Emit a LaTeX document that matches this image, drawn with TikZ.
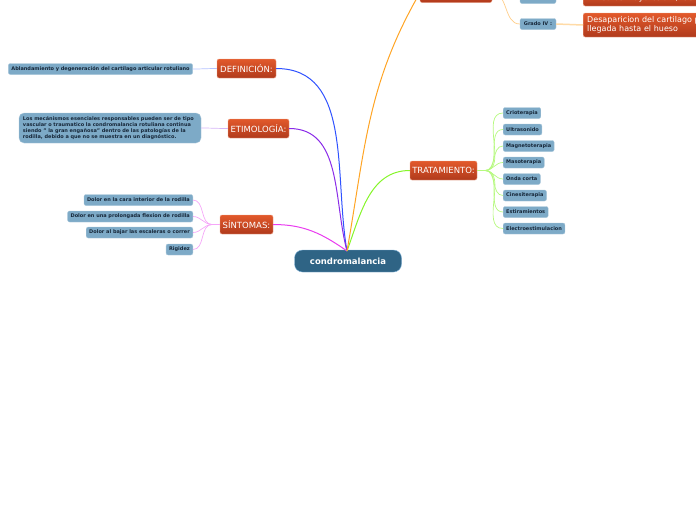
\documentclass[tikz,border=0pt]{standalone}
\usepackage{fontspec}
\setmainfont{DejaVu Sans}
\usepackage{tikz}
\usetikzlibrary{positioning}
\definecolor{rootx}{HTML}{2F6485}
\definecolor{rootb}{HTML}{7FB2D8}
\definecolor{topx}{HTML}{E2592B}
\definecolor{topy}{HTML}{B03A1C}
\definecolor{leafx}{HTML}{7DAAC7}
\definecolor{leafb}{HTML}{A8C6DA}
\definecolor{inkx}{HTML}{17283A}
\definecolor{bluex}{HTML}{2F52FF}
\definecolor{purplex}{HTML}{8A2BE8}
\definecolor{magx}{HTML}{E93BEF}
\definecolor{limex}{HTML}{86F52A}
\definecolor{orangex}{HTML}{FFA424}
\tikzset{
  root/.style={draw=rootb,fill=rootx,rounded corners=8pt,text=white,font=\fontsize{8.5}{10}\selectfont\bfseries,minimum width=107pt,minimum height=22pt,inner sep=0pt},
  topic/.style={draw=topx!55!white,top color=topx,bottom color=topy,rounded corners=2pt,text=white,font=\fontsize{8.5}{10}\selectfont,minimum height=19pt,inner sep=0pt},
  leaf/.style={draw=leafb,fill=leafx,rounded corners=2pt,text=inkx,font=\fontsize{5}{6}\selectfont\bfseries,minimum height=11pt,inner xsep=3pt,inner ysep=0pt},
  lnk/.style={line width=1pt},
  twig/.style={line width=0.7pt}
}
\begin{document}
\begin{tikzpicture}[x=1pt,y=-1pt]
\useasboundingbox (0,0) rectangle (696,520);
\clip (0,0) rectangle (696,520);
\node[root] (cond) at (348,261) {condromalancia};
\coordinate (hub) at (347,251);
% ramas principales
\node[topic,minimum width=59pt] (def) at (246.5,68.5) {DEFINICIÓN:};
\node[topic,minimum width=61pt] (eti) at (258.5,128.5) {ETIMOLOGÍA:};
\node[topic,minimum width=53pt] (sin) at (246.5,224.5) {SÍNTOMAS:};
\node[topic,minimum width=67pt] (tra) at (443.5,170.5) {TRATAMIENTO:};
\node[topic,minimum width=72pt] (cla) at (456,-7) {};
\draw[lnk,bluex] (def.east) to[out=0,in=100] (hub);
\draw[lnk,purplex] (eti.east) to[out=0,in=105] (hub);
\draw[lnk,magx] (sin.east) to[out=0,in=145] (hub);
\draw[lnk,limex] (tra.west) to[out=180,in=70] (hub);
\draw[lnk,orangex] (hub) to[out=80,in=240] (cla.west);
% definicion y etimologia
\node[leaf,minimum width=179pt] (deflf) at (100.5,69) {Ablandamiento y degeneración del cartílago articular rotuliano};
\node[leaf,rounded corners=5pt,text width=174pt,align=left,inner xsep=4pt,minimum height=30pt] (etilf) at (110,128) {Los mecánismos esenciales responsables pueden ser de tipo\\vascular o traumatico la condromalancia rotuliana continua\\siendo " la gran engañosa" dentro de las patologías de la\\rodilla, debido a que no se muestra en un diagnóstico.};
\draw[twig,bluex!35] (def.west) to[out=180,in=0] (deflf.east);
\draw[twig,purplex!35] (eti.west) to[out=180,in=0] (etilf.east);
% sintomas
\node[leaf,anchor=east] (s1) at (193,200) {Dolor en la cara interior de la rodilla};
\node[leaf,anchor=east] (s2) at (193,216.5) {Dolor en una prolongada flexion de rodilla};
\node[leaf,anchor=east] (s3) at (193,232.5) {Dolor al bajar las escaleras o correr};
\node[leaf,anchor=east] (s4) at (193,249.5) {Rigidez};
\coordinate (sfork) at (212,224.5);
\draw[twig,magx!45] (sin.west) -- (sfork);
\foreach \i in {1,...,4} \draw[twig,magx!45] (sfork) to[out=180,in=0] (s\i.east);
% tratamiento
\coordinate (tfork) at (485,170.5);
\draw[twig,limex!60] (tra.east) -- (tfork);
\foreach \t/\y [count=\i] in {Crioterapia/113,Ultrasonido/129.5,Magnetoterapia/146,Masoterapia/162.5,Onda corta/179,Cinesiterapia/195.5,Estiramientos/212,Electroestimulacion/228.5}{
  \node[leaf,anchor=west] (t\i) at (503,\y) {\t};
  \draw[twig,limex!60] (tfork) to[out=0,in=180] (t\i.west);
}
% grados
\node[leaf,minimum width=36pt] (g3) at (538,-2) {Grado III :};
\node[leaf,minimum width=36pt] (g4) at (538,24) {Grado IV :};
\draw[twig,orangex!55] (cla.east) to[out=0,in=180] (g3.west);
\draw[twig,orangex!55] (cla.east) to[out=0,in=180] (g4.west);
\node[topic,anchor=west,minimum width=130pt,minimum height=16pt,inner xsep=4pt,font=\fontsize{8}{9.5}\selectfont] (fis) at (583,-2) {Fisuras mayores a 1,25cm};
\node[topic,anchor=west,text width=130pt,align=left,minimum height=24pt,inner xsep=4pt,font=\fontsize{8}{9.5}\selectfont] (des) at (583,25) {Desaparicion del cartilago por\\llegada hasta el hueso};
\draw[line width=1.5pt,orangex!40] (g3.east) -- (fis.west);
\draw[line width=1.5pt,orangex!40] (g4.east) -- (des.west);
\end{tikzpicture}
\end{document}
